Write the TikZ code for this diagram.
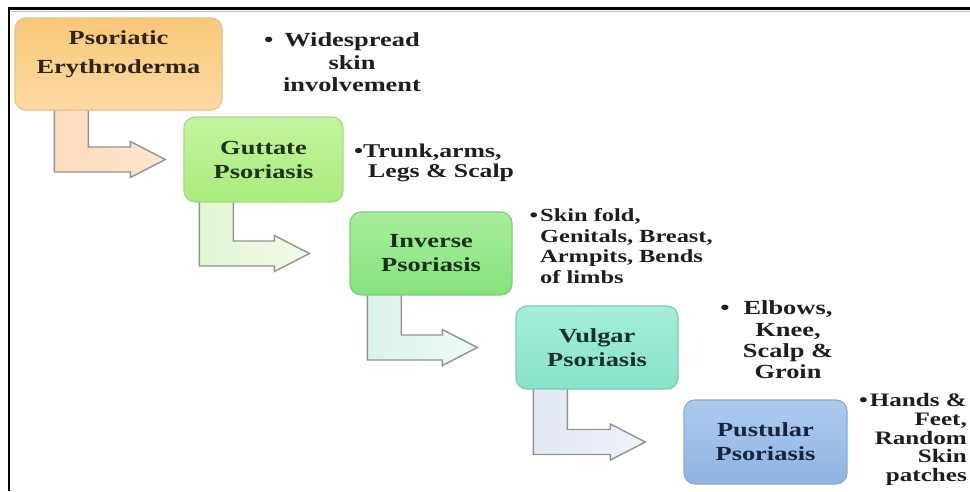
\documentclass[tikz,border=0pt]{standalone}
\usepackage{fontspec}
\usetikzlibrary{calc}
\newfontfamily\dfont[FakeStretch=1.32]{Liberation Serif}
\definecolor{txt}{HTML}{1E1E1E}
\definecolor{aline}{HTML}{939393}
\definecolor{aoneL}{HTML}{FCDCBC}\definecolor{aoneR}{HTML}{FDE6D0}
\definecolor{atwoL}{HTML}{E2F6D2}\definecolor{atwoR}{HTML}{F0FBE8}
\definecolor{athrL}{HTML}{DCF3EA}\definecolor{athrR}{HTML}{EEFAF5}
\definecolor{afouL}{HTML}{E1E7F4}\definecolor{afouR}{HTML}{F0F3FA}
\definecolor{boneD}{HTML}{E6C188}\definecolor{boneT}{HTML}{FAC878}\definecolor{boneB}{HTML}{FCDAA4}\definecolor{boneX}{HTML}{2E2412}
\definecolor{btwoD}{HTML}{A8D98C}\definecolor{btwoT}{HTML}{C4F49E}\definecolor{btwoB}{HTML}{A9EC7C}\definecolor{btwoX}{HTML}{1C3412}
\definecolor{bthrD}{HTML}{84CC80}\definecolor{bthrT}{HTML}{A6EE9C}\definecolor{bthrB}{HTML}{86E27C}\definecolor{bthrX}{HTML}{183016}
\definecolor{bfouD}{HTML}{7ECAB4}\definecolor{bfouT}{HTML}{A4EEDA}\definecolor{bfouB}{HTML}{88E2CA}\definecolor{bfouX}{HTML}{14302A}
\definecolor{bfivD}{HTML}{8FAAD2}\definecolor{bfivT}{HTML}{AECBEE}\definecolor{bfivB}{HTML}{8DB3E3}\definecolor{bfivX}{HTML}{16243E}
\newcommand\bentarrow[6]{% from, to, stem offset, gap, left col, right col
  \draw[bentstyle, left color=#5, right color=#6]
    let \p1=(#1.south west), \p2=(#2.west) in
    (\x1+#3, \y1+3pt) -- (\x1+#3, \y2-12.5pt) -- (\x2-#4-35pt, \y2-12.5pt)
    -- (\x2-#4-35pt, \y2-18pt) -- (\x2-#4, \y2) -- (\x2-#4-35pt, \y2+18pt)
    -- (\x2-#4-35pt, \y2+12.5pt) -- (\x1+#3+34pt, \y2+12.5pt)
    -- (\x1+#3+34pt, \y1+3pt) -- cycle;}
\begin{document}
\begin{tikzpicture}[x=1pt,y=-1pt,
  box/.style={rounded corners=11pt, line width=1.2pt, inner sep=0pt,
    align=center, font=\dfont\bfseries\fontsize{20}{24}\selectfont},
  bentstyle/.style={draw=aline, line width=1.4pt, line join=miter},
  bul/.style={inner sep=0pt, text=txt, font=\dfont\bfseries\fontsize{20}{22}\selectfont}]
\useasboundingbox (0,0) rectangle (970,491);
\clip (0,0) rectangle (970,491);
\fill[white] (0,0) rectangle (970,491);
% frame
\draw[line width=2.4pt, black] (9,491) -- (9,8.5) -- (970,8.5);
\draw[line width=0.6pt, black!25] (10.5,11) -- (970,11);

% box placeholders (named)
\path (118.5,64) node[box, minimum width=207pt, minimum height=92pt] (b1) {};
\path (263.5,159.5) node[box, minimum width=159pt, minimum height=85pt] (b2) {};
\path (431,253.5) node[box, minimum width=162pt, minimum height=83pt] (b3) {};
\path (597,347.5) node[box, minimum width=162pt, minimum height=83pt] (b4) {};
\path (765.5,442) node[box, minimum width=163pt, minimum height=84pt] (b5) {};

% bent arrows
\bentarrow{b1}{b2}{40pt}{18pt}{aoneL}{aoneR}
\bentarrow{b2}{b3}{16pt}{40pt}{atwoL}{atwoR}
\bentarrow{b3}{b4}{18pt}{38pt}{athrL}{athrR}
\bentarrow{b4}{b5}{18pt}{38pt}{afouL}{afouR}

% boxes drawn on top
\node[box, minimum width=207pt, minimum height=92pt, draw=boneD,
  top color=boneT, bottom color=boneB] (f1) at (b1) {};
\node[box, text=boneX, font=\dfont\bfseries\fontsize{20}{29}\selectfont] (l1) at ($(b1.center)+(0,-10)$) {Psoriatic\\Erythroderma};
\node[box, minimum width=159pt, minimum height=85pt, draw=btwoD,
  top color=btwoT, bottom color=btwoB, text=btwoX] (f2) at (b2) {Guttate\\Psoriasis};
\node[box, minimum width=162pt, minimum height=83pt, draw=bthrD,
  top color=bthrT, bottom color=bthrB, text=bthrX] (f3) at (b3) {Inverse\\Psoriasis};
\node[box, minimum width=162pt, minimum height=83pt, draw=bfouD,
  top color=bfouT, bottom color=bfouB, text=bfouX] (f4) at (b4) {Vulgar\\Psoriasis};
\node[box, minimum width=163pt, minimum height=84pt, draw=bfivD,
  top color=bfivT, bottom color=bfivB, text=bfivX] (f5) at (b5) {Pustular\\Psoriasis};

% bullet texts
\node[bul, align=center, font=\dfont\bfseries\fontsize{20}{22.5}\selectfont] (t1) at (352,62.5)
  {\llap{•\hspace{11pt}}Widespread\\skin\\involvement};
\node[bul, align=left, anchor=west, font=\dfont\bfseries\fontsize{19.5}{20.5}\selectfont] (t2) at (363,163)
  {\llap{•}Trunk,arms,\\\hspace{5pt}Legs \& Scalp};
\node[bul, align=left, anchor=west, font=\dfont\bfseries\fontsize{18.5}{20.6}\selectfont] (t3) at (540,246)
  {\llap{•\hspace{2pt}}Skin fold,\\Genitals, Breast,\\Armpits, Bends\\of limbs};
\node[bul, align=center, font=\dfont\bfseries\fontsize{20}{21.4}\selectfont] (t4) at (788,340)
  {\llap{•\hspace{14pt}}Elbows,\\Knee,\\Scalp \&\\Groin};
\node[bul, align=right, anchor=east, font=\dfont\bfseries\fontsize{19}{18.8}\selectfont] (t5) at (967,439.5)
  {\llap{•\hspace{2pt}}Hands \&\\Feet,\\Random\\Skin\\patches};
\end{tikzpicture}
\end{document}
